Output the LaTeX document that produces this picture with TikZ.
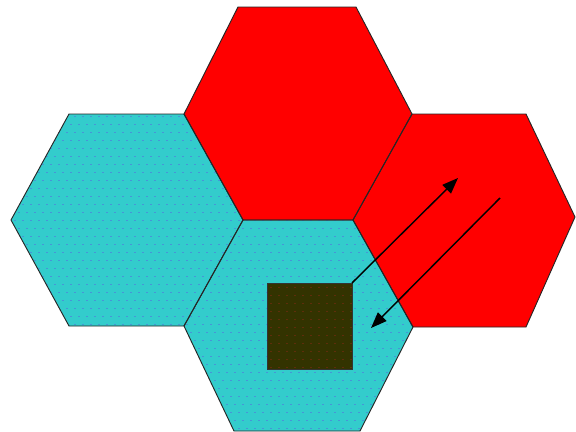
\documentclass[tikz,border=0pt]{standalone}
\usetikzlibrary{arrows.meta}
\definecolor{cellcyan}{RGB}{51,204,204}
\definecolor{cellred}{RGB}{255,0,0}
\definecolor{dotblue}{RGB}{70,150,215}
\definecolor{sqfill}{RGB}{51,51,0}
\definecolor{sqdot}{RGB}{95,45,10}
\tikzset{
  cyancell/.style={fill=cellcyan},
  redcell/.style={fill=cellred},
  celledge/.style={draw=black!85, line width=0.7pt, line join=round},
  mobile/.style={fill=sqfill, draw=black!80, line width=0.6pt},
  link/.style={draw=black, line width=1.1pt, -{Triangle[length=12pt,width=9pt]}}
}
\begin{document}
\begin{tikzpicture}[x=0.75pt,y=-0.75pt]
\useasboundingbox (0,0) rectangle (576,432);
\fill[white] (0,0) rectangle (576,432);
% hexagon outlines as macros
\def\hexL{(11,220) -- (69,114) -- (184,114) -- (243,220) -- (184,326) -- (69,326) -- cycle}
\def\hexT{(184,114) -- (238,7) -- (356,7) -- (412,114) -- (353,220) -- (243,220) -- cycle}
\def\hexR{(353,220) -- (412,114) -- (526,114) -- (575,217) -- (526,327) -- (413,327) -- cycle}
\def\hexB{(184,326) -- (243,220) -- (353,220) -- (413,327) -- (360,431) -- (234,431) -- cycle}
% fills
\path[cyancell] \hexL;
\path[cyancell] \hexB;
\path[redcell] \hexT;
\path[redcell] \hexR;
% dot texture on cyan cells
\begin{scope}
\clip \hexL \hexB;
\foreach \y in {108,116,...,432}{
  \pgfmathtruncatemacro{\off}{mod(\y,16)==12 ? 4 : 0}
  \foreach \x in {2,10,...,418}{
    \fill[dotblue] (\x+\off,\y) rectangle ++(2,1.4);
  }
}
\end{scope}
% outlines
\path[celledge] \hexL;
\path[celledge] \hexT;
\path[celledge] \hexR;
\path[celledge] \hexB;
% mobile unit square
\path[mobile] (267,283) rectangle (352,369);
\begin{scope}
\clip (267,283) rectangle (352,369);
\foreach \y in {287,295,...,369}{
  \foreach \x in {270,278,...,352}{
    \fill[sqdot] (\x,\y) rectangle ++(2,1.4);
  }
}
\end{scope}
\draw[black!80, line width=0.6pt] (267,283) rectangle (352,369);
% arrows
\coordinate (up0) at (352,283);
\coordinate (up1) at (458,178);
\coordinate (dn0) at (500,198);
\coordinate (dn1) at (371,328);
\draw[link] (up0) -- (up1);
\draw[link] (dn0) -- (dn1);
\end{tikzpicture}
\end{document}
